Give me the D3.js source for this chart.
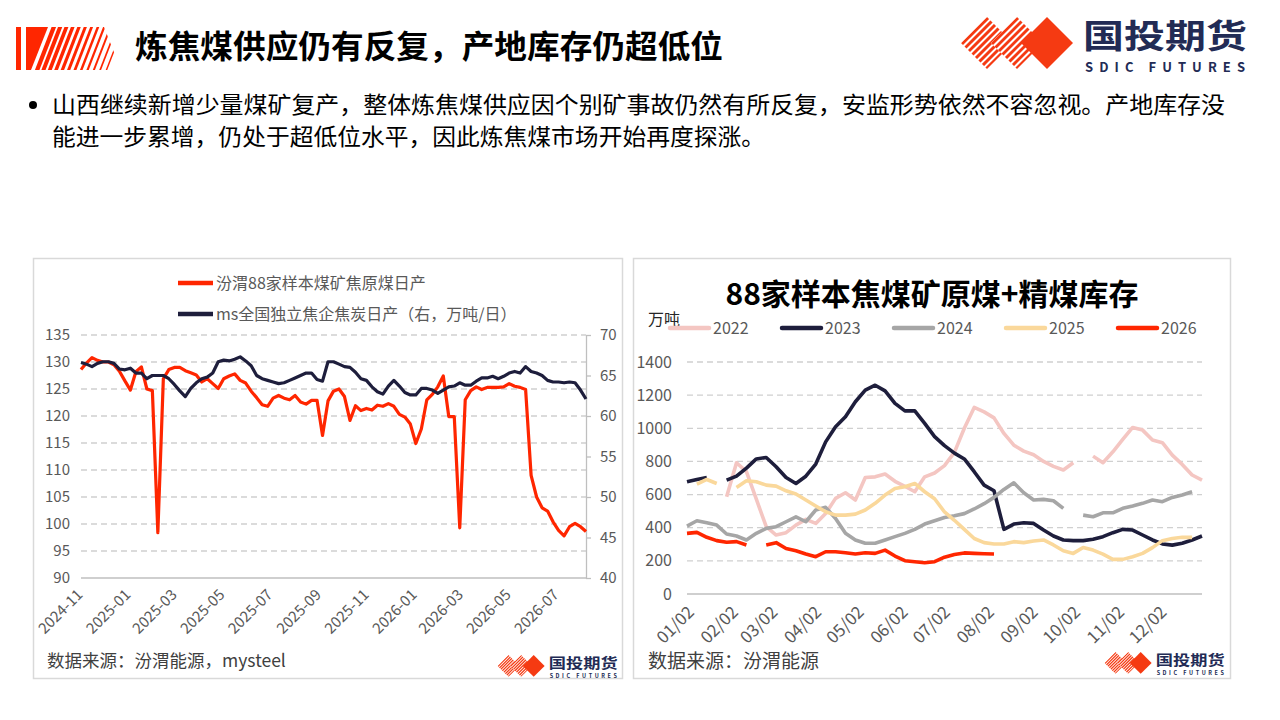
<!DOCTYPE html>
<html>
<head>
<meta charset="utf-8">
<script src="https://cdn.jsdelivr.net/npm/d3@7"></script>
<style>
  body { margin: 0; background: #fff; }
  svg { display: block; }
</style>
</head>
<body>
<svg id="page" width="1280" height="720"></svg>
<script>
// ---------- data ----------
var pageTitle = "炼焦煤供应仍有反复，产地库存仍超低位";
var bulletLines = [
  "山西继续新增少量煤矿复产，整体炼焦煤供应因个别矿事故仍然有所反复，安监形势依然不容忽视。产地库存没",
  "能进一步累增，仍处于超低位水平，因此炼焦煤市场开始再度探涨。"
];

// left chart: weekly, starting date below
var prodStart = "2024-11-01";
var prodNames = ["汾渭88家样本煤矿焦原煤日产", "ms全国独立焦企焦炭日产（右，万吨/日）"];
var cokingCoalOutput = [
  128.6,129.8,130.8,130.3,130.0,130.0,129.5,128.3,126.5,124.8,
  128.2,129.1,125.0,124.7,98.4,126.9,128.6,129.0,129.0,128.4,
  128.0,127.6,126.3,126.9,126.0,125.1,126.9,127.4,127.8,126.6,
  126.1,124.6,123.4,122.1,121.8,123.3,123.8,123.3,123.0,123.8,
  122.6,122.2,122.9,122.9,116.4,122.8,124.6,125.0,123.6,119.2,
  121.9,121.0,121.4,121.1,122.0,121.8,122.3,121.8,120.3,119.8,
  118.5,114.9,117.6,123.0,124.0,125.4,127.4,119.9,119.9,99.3,
  123.0,124.7,125.4,124.9,125.3,125.3,125.3,125.4,126.0,125.5,
  125.3,124.9,109.0,105.0,103.0,102.4,100.4,98.8,97.8,99.5,
  100.1,99.5,98.6
];
var cokeOutput = [
  66.6,66.4,66.1,66.5,66.7,66.7,66.5,65.8,65.7,65.9,
  65.3,65.3,64.6,65.0,65.0,65.0,64.6,63.9,63.1,62.4,
  63.4,64.1,64.6,64.8,65.3,66.7,66.9,66.8,67.0,67.3,
  66.8,66.2,65.0,64.6,64.4,64.2,64.0,64.1,64.4,64.7,
  65.0,65.3,65.3,64.5,64.3,66.7,66.7,66.4,66.1,66.0,
  65.4,64.6,64.4,63.6,63.0,62.7,63.7,64.4,63.7,62.9,
  62.6,62.6,63.4,63.4,63.2,62.8,63.2,63.6,63.7,64.1,
  63.8,63.8,64.3,64.7,64.7,64.9,64.6,64.9,65.3,65.5,
  65.3,66.1,65.5,65.3,65.0,64.4,64.2,64.2,64.1,64.2,
  64.1,63.2,62.1
];
var prodMonthTicks = ["2024-11","2025-01","2025-03","2025-05","2025-07","2025-09",
                      "2025-11","2026-01","2026-03","2026-05","2026-07"];
var leftTicksL = [90,95,100,105,110,115,120,125,130,135];
var leftTicksR = [40,45,50,55,60,65,70];
var leftSource = "数据来源：汾渭能源，mysteel";

// right chart: weekly inventory by year, same calendar weeks
var stockTitle = "88家样本焦煤矿原煤+精煤库存";
var stockUnit = "万吨";
var stockYears = ["2022","2023","2024","2025","2026"];
var stock2022 = [null,null,null,null,587,792,738,572,406,356,370,416,450,426,486,577,611,567,703,707,
  724,680,650,617,707,730,775,855,1000,1126,1099,1063,969,898,862,840,800,770,748,792,
  null,832,792,858,933,1005,989,929,913,838,782,718,687];
var stock2023 = [677,691,703,null,687,711,760,815,824,768,703,667,711,784,918,1009,1069,1160,1230,1260,
  1226,1150,1105,1105,1030,950,895,850,815,738,657,623,390,422,430,426,386,350,326,322,
  322,330,346,370,390,386,356,326,302,295,306,326,350];
var stock2024 = [410,442,430,416,362,350,326,366,396,406,436,466,436,507,523,456,366,326,306,306,
  326,346,366,390,422,442,462,472,485,513,545,583,631,671,611,567,571,563,517,null,
  476,466,490,490,517,531,547,567,557,583,597,617,null];
var stock2025 = [null,663,691,667,null,643,683,677,657,651,623,603,567,531,496,476,476,482,507,547,
  597,637,647,667,617,575,495,445,390,335,310,302,302,316,310,320,326,296,261,245,
  281,265,241,209,209,225,245,280,322,335,342,342,null];
var stock2026 = [366,372,342,322,312,316,296,null,296,310,275,261,241,225,255,255,249,241,249,245,
  265,229,201,195,189,195,222,238,248,245,243,241,null,null,null,null,null,null,null,null,
  null,null,null,null,null,null,null,null,null,null,null,null,null];
var stockWeekStart = "01/02";
var stockMonthTicks = ["01/02","02/02","03/02","04/02","05/02","06/02",
                       "07/02","08/02","09/02","10/02","11/02","12/02"];
var stockTicks = [0,200,400,600,800,1000,1200,1400];
var rightSource = "数据来源：汾渭能源";

// ---------- styles ----------
var FONT = '"Noto Sans CJK SC","Noto Sans",sans-serif';
var RED = "#ff2600", NAVY = "#1e1e3c", LOGO_RED = "#f53a12", LOGO_NAVY = "#222b55";
var AXIS_TXT = "#595959", GRID = "#d0d0d0";
var yearColors = ["#f4c6c2", NAVY, "#a6a6a6", "#fad89b", RED];

var svg = d3.select("#page").style("font-family", FONT);
var defs = svg.append("defs");

// ---------- header ----------
defs.append("clipPath").attr("id", "blockClip")
    .append("polygon").attr("points", "26,27 104,27 121,70 26,70");
var block = svg.append("g");
block.append("rect").attr("x", 16).attr("y", 27).attr("width", 5).attr("height", 43).attr("fill", RED);
var stripes = block.append("g").attr("clip-path", "url(#blockClip)");
stripes.append("polygon").attr("points", "26,27 48,27 31,70 26,70").attr("fill", RED);
d3.range(12).forEach(function (i) {
    var x = 54 + i * 6.3;
    stripes.append("line")
        .attr("x1", x + 1).attr("y1", 24).attr("x2", x - 18).attr("y2", 73)
        .attr("stroke", RED).attr("stroke-width", Math.max(1.4, 4.2 - i * 0.25));
});

svg.append("text").attr("x", 135).attr("y", 58)
    .attr("font-size", 32).attr("font-weight", "bold").attr("fill", "#000")
    .attr("textLength", 588).attr("lengthAdjust", "spacingAndGlyphs")
    .text(pageTitle);

// logo: two striped diamonds and a solid one, with name
["dia1", "dia2"].forEach(function (id, k) {
    var cx = 25 + k * 30;
    defs.append("clipPath").attr("id", id).append("polygon")
        .attr("points", [[cx - 26, 26], [cx, 0], [cx + 26, 26], [cx, 52]].join(" "));
});
function drawLogo(g) {
    [25, 55].forEach(function (cx, k) {
        var pts = [[cx - 26, 26], [cx, 0], [cx + 26, 26], [cx, 52]].join(" ");
        g.append("polygon").attr("points", pts).attr("fill", "#fff");
        var s = g.append("g").attr("clip-path", "url(#dia" + (k + 1) + ")");
        d3.range(8).forEach(function (j) {
            var u = cx + 2 + j * 7;  // lines x + y = u
            s.append("line").attr("x1", u - 60).attr("y1", 60).attr("x2", u + 10).attr("y2", -10)
                .attr("stroke", LOGO_RED).attr("stroke-width", 3);
        });
    });
    g.append("polygon").attr("points", [[59, 26], [85, 0], [111, 26], [85, 52]].join(" "))
        .attr("fill", LOGO_RED);
    g.append("text").attr("x", 121).attr("y", 31)
        .attr("font-size", 33).attr("font-weight", "bold").attr("fill", LOGO_NAVY)
        .attr("textLength", 164).attr("lengthAdjust", "spacingAndGlyphs").text("国投期货");
    g.append("text").attr("x", 123).attr("y", 55)
        .attr("font-size", 13).attr("font-weight", "bold").attr("fill", LOGO_NAVY)
        .attr("textLength", 160).attr("lengthAdjust", "spacing").text("SDIC FUTURES");
}
drawLogo(svg.append("g").attr("transform", "translate(962,17)"));

// bullet text
svg.append("circle").attr("cx", 33).attr("cy", 105).attr("r", 4).attr("fill", "#000");
bulletLines.forEach(function (t, i) {
    svg.append("text").attr("x", 52).attr("y", 113 + i * 32)
        .attr("font-size", 23).attr("fill", "#000")
        .attr("textLength", i === 0 ? 1173 : 713).attr("lengthAdjust", "spacingAndGlyphs")
        .text(t);
});

// ---------- panel frames ----------
svg.append("rect").attr("x", 33.5).attr("y", 258.5).attr("width", 589).attr("height", 420)
    .attr("fill", "none").attr("stroke", "#d9d9d9").attr("stroke-width", 1.5);
svg.append("rect").attr("x", 633.5).attr("y", 258.5).attr("width", 597).attr("height", 420)
    .attr("fill", "none").attr("stroke", "#d9d9d9").attr("stroke-width", 1.5);

function styleTicks(sel, size) {
    sel.selectAll("text").attr("font-size", size).attr("fill", AXIS_TXT).attr("font-family", FONT);
}

// ---------- left chart ----------
var L = { x0: 81, x1: 586, top: 335, bottom: 578 };
var parseDay = d3.timeParse("%Y-%m-%d");
var parseMonth = d3.timeParse("%Y-%m");
var t0 = parseDay(prodStart);
var prodDates = cokingCoalOutput.map(function (v, i) { return d3.timeDay.offset(t0, 7 * i); });

var xL = d3.scaleTime().domain(d3.extent(prodDates)).range([L.x0, L.x1]);
var yL = d3.scaleLinear().domain([90, 135]).range([L.bottom, L.top]);
var yR = d3.scaleLinear().domain([40, 70]).range([L.bottom, L.top]);

var lg = svg.append("g");
leftTicksL.forEach(function (v) {
    lg.append("line").attr("x1", L.x0).attr("x2", L.x1).attr("y1", yL(v)).attr("y2", yL(v))
        .attr("stroke", v === 90 ? "#bfbfbf" : GRID).attr("stroke-width", 1.3)
        .attr("stroke-dasharray", v === 90 ? null : "6,4");
});

var axL = lg.append("g").attr("transform", "translate(" + L.x0 + ",0)")
    .call(d3.axisLeft(yL).tickValues(leftTicksL).tickSize(0).tickPadding(11));
axL.select(".domain").remove();
styleTicks(axL, 15);

var axR = lg.append("g").attr("transform", "translate(" + L.x1 + ",0)")
    .call(d3.axisRight(yR).tickValues(leftTicksR).tickSizeInner(5).tickSizeOuter(0).tickPadding(9));
axR.select(".domain").attr("stroke", "#bfbfbf").attr("stroke-width", 1.3);
axR.selectAll(".tick line").attr("stroke", "#bfbfbf").attr("stroke-width", 1.3);
styleTicks(axR, 15);

prodMonthTicks.forEach(function (m) {
    var x = xL(parseMonth(m));
    lg.append("text").attr("transform", "translate(" + (x - 1) + ",592) rotate(-45)")
        .attr("text-anchor", "end").attr("dy", "0.35em")
        .attr("font-size", 15).attr("fill", AXIS_TXT).text(m);
});

var lineL = d3.line().x(function (d, i) { return xL(prodDates[i]); }).y(function (d) { return yL(d); });
var lineR = d3.line().x(function (d, i) { return xL(prodDates[i]); }).y(function (d) { return yR(d); });
lg.append("path").datum(cokingCoalOutput).attr("d", lineL)
    .attr("fill", "none").attr("stroke", RED).attr("stroke-width", 3.2).attr("stroke-linejoin", "round");
lg.append("path").datum(cokeOutput).attr("d", lineR)
    .attr("fill", "none").attr("stroke", NAVY).attr("stroke-width", 3.2).attr("stroke-linejoin", "round");

[RED, NAVY].forEach(function (c, i) {
    var y = 283 + i * 31;
    lg.append("line").attr("x1", 178).attr("x2", 213).attr("y1", y).attr("y2", y)
        .attr("stroke", c).attr("stroke-width", 4.5);
    lg.append("text").attr("x", 216).attr("y", y + 6).attr("font-size", 16).attr("fill", AXIS_TXT)
        .text(prodNames[i]);
});

lg.append("text").attr("x", 47).attr("y", 667).attr("font-size", 17.5).attr("fill", "#404040")
    .text(leftSource);
drawLogo(svg.append("g").attr("transform", "translate(498,655) scale(0.42)"));

// ---------- right chart ----------
var R = { x0: 687, x1: 1202, top: 362, bottom: 594 };
var parseMD = d3.timeParse("%m/%d");
var w0 = parseMD(stockWeekStart);
var stockSeries = [stock2022, stock2023, stock2024, stock2025, stock2026];
var weekDates = stock2022.map(function (v, i) { return d3.timeDay.offset(w0, 7 * i); });

var xS = d3.scaleTime().domain(d3.extent(weekDates)).range([R.x0, R.x1]);
var yS = d3.scaleLinear().domain([0, 1400]).range([R.bottom, R.top]);

var rg = svg.append("g");
rg.append("text").attr("x", 932).attr("y", 305).attr("text-anchor", "middle")
    .attr("font-size", 30).attr("font-weight", "bold").attr("fill", "#000").text(stockTitle);
rg.append("text").attr("x", 648).attr("y", 325).attr("font-size", 16).attr("fill", "#262626")
    .text(stockUnit);

stockTicks.forEach(function (v) {
    rg.append("line").attr("x1", R.x0).attr("x2", R.x1).attr("y1", yS(v)).attr("y2", yS(v))
        .attr("stroke", v === 0 ? "#bfbfbf" : GRID).attr("stroke-width", 1.3)
        .attr("stroke-dasharray", v === 0 ? null : "6,4");
});
var axS = rg.append("g").attr("transform", "translate(" + R.x0 + ",0)")
    .call(d3.axisLeft(yS).tickValues(stockTicks).tickFormat(d3.format("d")).tickSize(0).tickPadding(15));
axS.select(".domain").remove();
styleTicks(axS, 16);

stockMonthTicks.forEach(function (m) {
    var x = xS(parseMD(m));
    rg.append("text").attr("transform", "translate(" + (x + 4) + ",609) rotate(-45)")
        .attr("text-anchor", "end").attr("dy", "0.35em")
        .attr("font-size", 17).attr("fill", AXIS_TXT).text(m);
});

var lineS = d3.line()
    .defined(function (d) { return d != null; })
    .x(function (d, i) { return xS(weekDates[i]); })
    .y(function (d) { return yS(d); });
stockSeries.forEach(function (s, k) {
    rg.append("path").datum(s).attr("d", lineS)
        .attr("fill", "none").attr("stroke", yearColors[k]).attr("stroke-width", 3.6)
        .attr("stroke-linejoin", "round");
});

stockYears.forEach(function (yr, k) {
    var x = 670 + k * 112;
    rg.append("line").attr("x1", x).attr("x2", x + 39).attr("y1", 328).attr("y2", 328)
        .attr("stroke", yearColors[k]).attr("stroke-width", 4.5).attr("stroke-linecap", "round");
    rg.append("text").attr("x", x + 43).attr("y", 334).attr("font-size", 16).attr("fill", AXIS_TXT)
        .text(yr);
});

rg.append("text").attr("x", 648).attr("y", 668).attr("font-size", 19).attr("fill", "#404040")
    .text(rightSource);
drawLogo(svg.append("g").attr("transform", "translate(1105,652) scale(0.42)"));
</script>
</body>
</html>
